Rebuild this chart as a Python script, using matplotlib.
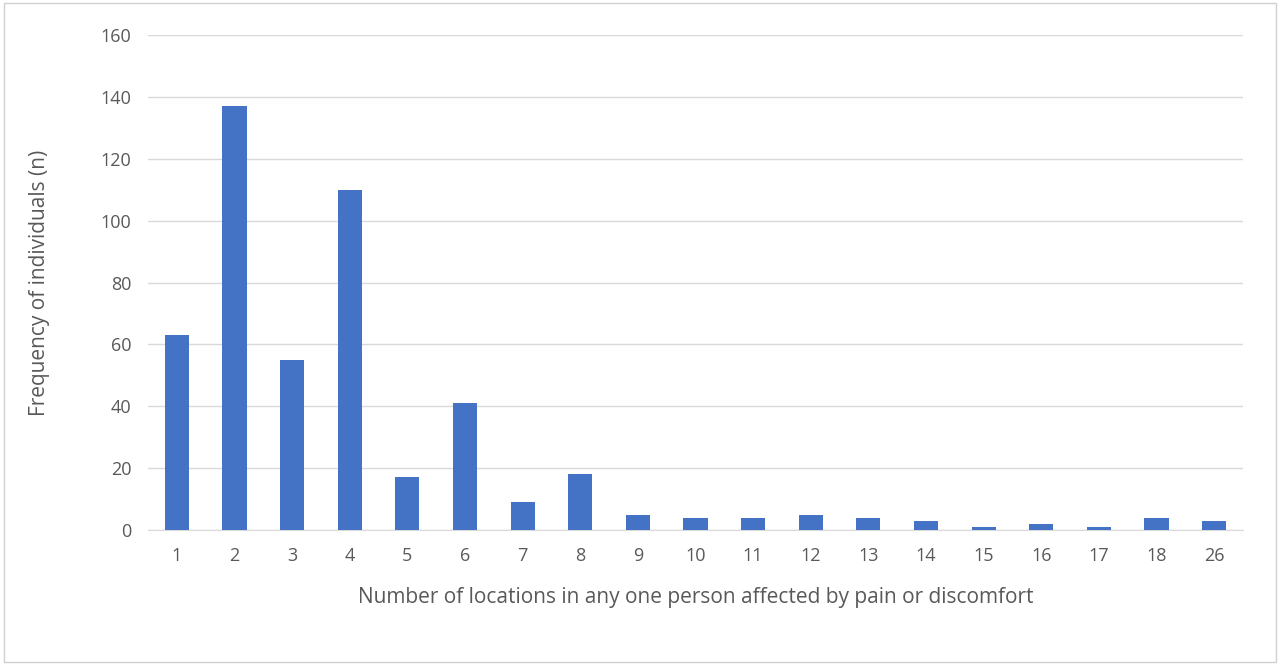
import matplotlib.pyplot as plt
from matplotlib.patches import Rectangle

plt.rcParams['font.family'] = ['Open Sans', 'DejaVu Sans']

locations = ['1', '2', '3', '4', '5', '6', '7', '8', '9', '10', '11', '12',
             '13', '14', '15', '16', '17', '18', '26']
counts = [63, 137, 55, 110, 17, 41, 9, 18, 5, 4, 4, 5, 4, 3, 1, 2, 1, 4, 3]

fig = plt.figure(figsize=(12.8, 6.65), dpi=100)
ax = fig.add_axes([148/1280, 1 - 530/665, (1243-148)/1280, (530-35)/665])
fig.patches.append(Rectangle((0.003, 0.004), 0.994, 0.992, transform=fig.transFigure,
                             fill=False, edgecolor='#d0d0d0', linewidth=1))

ax.bar(range(len(counts)), counts, width=0.42, color='#4472c4', zorder=3)
ax.set_xlim(-0.5, len(counts) - 0.5)
ax.set_ylim(0, 160)
ax.set_yticks(range(0, 161, 20))
ax.set_xticks(range(len(counts)))
ax.set_xticklabels(locations)
ax.grid(axis='y', color='#d9d9d9', linewidth=1, zorder=0)
for s in ['top', 'right', 'left']:
    ax.spines[s].set_visible(False)
ax.spines['bottom'].set_color('#d9d9d9')
ax.tick_params(length=0, labelsize=13, colors='#595959', pad=12)
ax.set_xlabel('Number of locations in any one person affected by pain or discomfort',
              fontsize=15, color='#595959', labelpad=16)
ax.set_ylabel('Frequency of individuals (n)', fontsize=15, color='#595959', labelpad=36)

fig.savefig('out.png', dpi=100)
